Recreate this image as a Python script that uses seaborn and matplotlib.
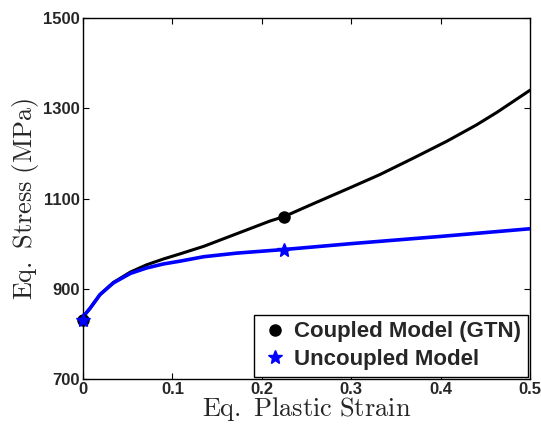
import matplotlib
matplotlib.use("Agg")
import matplotlib.pyplot as plt
import seaborn as sns
import pandas as pd

# Data
strain_coupled = [0, 0.003, 0.008, 0.019, 0.034, 0.053, 0.071, 0.09, 0.108, 0.135,
                  0.172, 0.209, 0.225, 0.257, 0.3, 0.332, 0.37, 0.407, 0.44, 0.463, 0.5]
stress_coupled = [830, 845, 857, 887, 914, 937, 953, 966, 977, 994,
                  1022, 1050, 1060, 1088, 1125, 1153, 1190, 1227, 1263, 1291, 1340]
strain_uncoupled = [0, 0.003, 0.008, 0.019, 0.034, 0.053, 0.071, 0.09, 0.108, 0.135,
                    0.172, 0.225, 0.3, 0.4, 0.5]
stress_uncoupled = [830, 845, 857, 887, 913, 934, 946, 955, 961, 971,
                    979, 987, 1000, 1016, 1033]
marker_strain = [0, 0.225]
marker_coupled = [830, 1060]
marker_uncoupled = [830, 987]
legend_labels = ["Coupled Model (GTN)", "Uncoupled Model"]
xticks = [0, 0.1, 0.2, 0.3, 0.4, 0.5]
xtick_labels = ["0", "0.1", "0.2", "0.3", "0.4", "0.5"]
yticks = [700, 900, 1100, 1300, 1500]

sns.set_style("white")
plt.rcParams["mathtext.fontset"] = "cm"

fig = plt.figure(figsize=(5.41, 4.25), dpi=100)
ax = fig.add_axes([0.1534, 0.1082, 0.8263, 0.8494])

df_c = pd.DataFrame({"x": strain_coupled, "y": stress_coupled})
df_u = pd.DataFrame({"x": strain_uncoupled, "y": stress_uncoupled})
sns.lineplot(data=df_c, x="x", y="y", ax=ax, color="black", lw=2.2, sort=False, zorder=2)
sns.lineplot(data=df_u, x="x", y="y", ax=ax, color="#0000ff", lw=2.6, sort=False, zorder=3)

ax.plot(marker_strain, marker_coupled, ls="none", marker="o", ms=8, color="black",
        label=legend_labels[0], zorder=4, clip_on=False)
ax.plot(marker_strain, marker_uncoupled, ls="none", marker="*", ms=10, color="#0000ff",
        label=legend_labels[1], zorder=5, clip_on=False)

ax.set_xlim(0, 0.5)
ax.set_ylim(700, 1500)
ax.set_xticks(xticks)
ax.set_xticklabels(xtick_labels)
ax.set_yticks(yticks)
ax.set_yticklabels([str(v) for v in yticks])

for lab in ax.get_xticklabels() + ax.get_yticklabels():
    lab.set_fontfamily("Liberation Sans")
    lab.set_fontweight("bold")
    lab.set_fontsize(12)

ax.tick_params(direction="in", length=4, width=0.8, top=True, right=True,
               bottom=True, left=True, color="black", pad=2)
for s in ax.spines.values():
    s.set_color("black")
    s.set_linewidth(1.0)

ax.set_xlabel(r"$\mathrm{Eq.\ Plastic\ Strain}$", fontsize=19, labelpad=-1)
ax.set_ylabel(r"$\mathrm{Eq.\ Stress\ (MPa)}$", fontsize=19, labelpad=2)

leg = ax.legend(loc="lower right", frameon=True, fancybox=False, framealpha=1,
                edgecolor="black", borderpad=0.3, handletextpad=0.21,
                handlelength=1.3, labelspacing=0.3, borderaxespad=0.1,
                prop={"family": "Liberation Sans", "weight": "bold", "size": 16})
leg.get_frame().set_linewidth(1.0)

fig.savefig("out.png", dpi=100)
